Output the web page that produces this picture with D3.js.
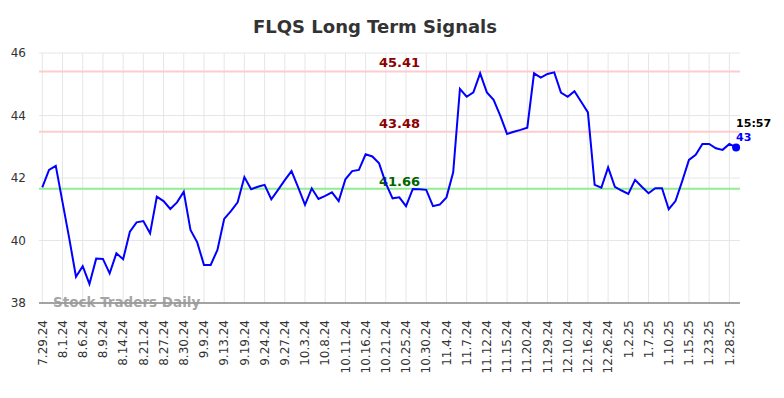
<!DOCTYPE html>
<html>
<head>
<meta charset="utf-8">
<script src="https://cdn.jsdelivr.net/npm/d3@7"></script>
<style>
body { margin:0; background:#fff; }
text { font-family: "DejaVu Sans", sans-serif; }
</style>
</head>
<body>
<div id="chart"></div>
<script>
// tick labels, one every 3rd point
var dateLabels = ["7.29.24","8.1.24","8.6.24","8.9.24","8.14.24","8.21.24","8.27.24","8.30.24","9.9.24","9.13.24",
  "9.19.24","9.24.24","9.27.24","10.3.24","10.8.24","10.11.24","10.16.24","10.21.24","10.25.24","10.30.24",
  "11.4.24","11.7.24","11.12.24","11.15.24","11.20.24","11.29.24","12.10.24","12.16.24","12.26.24","1.2.25",
  "1.7.25","1.10.25","1.15.25","1.23.25","1.28.25"];
var prices = [41.70,42.26,42.39,41.23,40.07,38.84,39.18,38.61,39.42,39.41,
  38.95,39.59,39.40,40.28,40.58,40.62,40.23,41.40,41.26,41.01,
  41.22,41.56,40.34,39.94,39.22,39.22,39.70,40.69,40.94,41.22,
  42.03,41.64,41.72,41.78,41.32,41.62,41.93,42.22,41.69,41.14,
  41.67,41.33,41.43,41.54,41.26,41.96,42.22,42.26,42.76,42.69,
  42.47,41.83,41.35,41.38,41.10,41.65,41.64,41.62,41.10,41.15,
  41.38,42.18,44.85,44.60,44.74,45.35,44.74,44.50,43.99,43.41,
  43.48,43.54,43.61,45.35,45.21,45.33,45.38,44.73,44.60,44.78,
  44.44,44.10,41.78,41.69,42.34,41.72,41.60,41.49,41.94,41.72,
  41.51,41.67,41.67,41.00,41.26,41.90,42.58,42.74,43.09,43.09,
  42.95,42.90,43.09,42.98];
var resistance = [45.41, 43.48];
var support = [41.66];
var yTicks = [38,40,42,44,46];
var lastTime = "15:57";

var W = 784, H = 398;
var pLeft = 39, pRight = 740, pTop = 53, pBottom = 303;

var svg = d3.select("#chart").append("svg")
  .attr("width", W).attr("height", H);

var x = d3.scaleLinear().domain([0, prices.length - 1]).range([42.3, 736.1]);
var y = d3.scaleLinear().domain([38, 46]).range([pBottom, pTop]);

// grid
svg.append("g").selectAll("line")
  .data(yTicks).enter().append("line")
  .attr("x1", pLeft).attr("x2", pRight)
  .attr("y1", function(d){ return y(d); }).attr("y2", function(d){ return y(d); })
  .attr("stroke", "#e6e6e6").attr("stroke-width", 1);
svg.append("g").selectAll("line")
  .data(dateLabels).enter().append("line")
  .attr("x1", function(d,i){ return x(i*3); }).attr("x2", function(d,i){ return x(i*3); })
  .attr("y1", pTop).attr("y2", pBottom)
  .attr("stroke", "#e6e6e6").attr("stroke-width", 1);

// y axis labels
svg.append("g").selectAll("text")
  .data(yTicks).enter().append("text")
  .attr("x", 26).attr("y", function(d){ return y(d); })
  .attr("dy", "0.35em").attr("text-anchor", "end")
  .style("font-size", "12px").attr("fill", "#333")
  .text(function(d){ return d; });

// x axis labels
svg.append("g").selectAll("text")
  .data(dateLabels).enter().append("text")
  .attr("transform", function(d,i){ return "translate(" + x(i*3) + "," + 320 + ") rotate(-90)"; })
  .attr("dy", "0.35em").attr("text-anchor", "end")
  .style("font-size", "12px").attr("fill", "#333")
  .text(function(d){ return d; });

// signal lines
svg.append("g").selectAll("line")
  .data(resistance).enter().append("line")
  .attr("x1", pLeft).attr("x2", pRight)
  .attr("y1", function(d){ return y(d); }).attr("y2", function(d){ return y(d); })
  .attr("stroke", "#ffcccc").attr("stroke-width", 2);
svg.append("g").selectAll("line")
  .data(support).enter().append("line")
  .attr("x1", pLeft).attr("x2", pRight)
  .attr("y1", function(d){ return y(d); }).attr("y2", function(d){ return y(d); })
  .attr("stroke", "#90ee90").attr("stroke-width", 2);

svg.append("g").selectAll("text")
  .data(resistance).enter().append("text")
  .attr("x", 399.5).attr("y", function(d){ return y(d) - 4; })
  .attr("text-anchor", "middle")
  .style("font-size", "13px").style("font-weight", "bold").attr("fill", "#8b0000")
  .text(function(d){ return d.toFixed(2); });
svg.append("g").selectAll("text")
  .data(support).enter().append("text")
  .attr("x", 399.5).attr("y", function(d){ return y(d) - 3; })
  .attr("text-anchor", "middle")
  .style("font-size", "13px").style("font-weight", "bold").attr("fill", "#006400")
  .text(function(d){ return d.toFixed(2); });

// bottom axis line
svg.append("line")
  .attr("x1", pLeft).attr("x2", pRight).attr("y1", pBottom).attr("y2", pBottom)
  .attr("stroke", "#555").attr("stroke-width", 1);

// watermark
svg.append("text")
  .attr("x", 53).attr("y", 307)
  .style("font-size", "13.5px").style("font-weight", "bold")
  .attr("fill", "#999").attr("fill-opacity", 0.9)
  .text("Stock Traders Daily");

// price line
var line = d3.line()
  .x(function(d,i){ return x(i); })
  .y(function(d){ return y(d); });
svg.append("path")
  .datum(prices)
  .attr("d", line)
  .attr("fill", "none").attr("stroke", "#0000ff").attr("stroke-width", 2);

var li = prices.length - 1;
svg.append("circle")
  .attr("cx", x(li)).attr("cy", y(prices[li])).attr("r", 4)
  .attr("fill", "#0000ff");
svg.append("text")
  .attr("x", x(li)).attr("y", y(prices[li]) - 20)
  .style("font-size", "11px").style("font-weight", "bold").attr("fill", "#000")
  .text(lastTime);
svg.append("text")
  .attr("x", x(li)).attr("y", y(prices[li]) - 6)
  .style("font-size", "11px").style("font-weight", "bold").attr("fill", "#0000ff")
  .text(Math.round(prices[li]));

// title
svg.append("text")
  .attr("x", 375).attr("y", 33)
  .attr("text-anchor", "middle")
  .style("font-size", "18px").style("font-weight", "bold").attr("fill", "#333")
  .text("FLQS Long Term Signals");
</script>
</body>
</html>
